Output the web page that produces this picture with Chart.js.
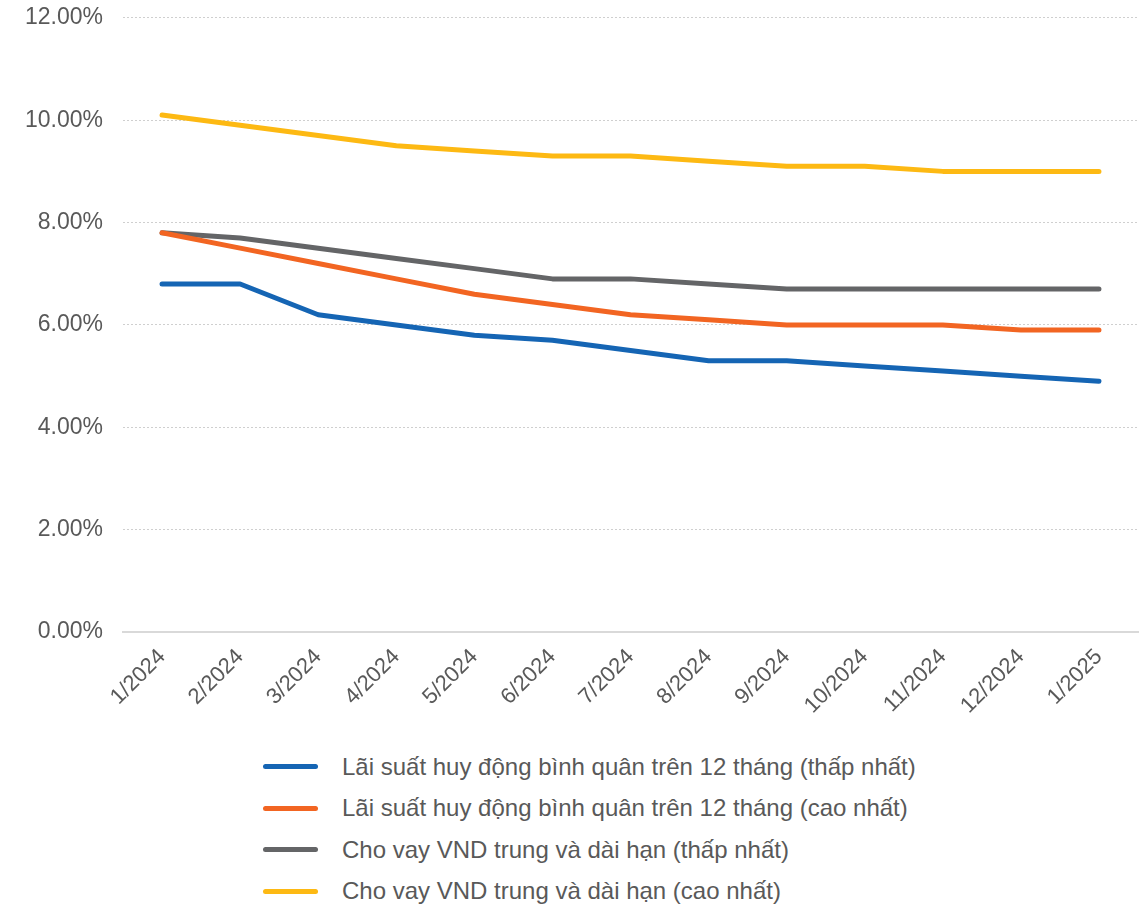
<!DOCTYPE html>
<html>
<head>
<meta charset="utf-8">
<script src="https://cdn.jsdelivr.net/npm/chart.js@4"></script>
<style>
  html, body { margin: 0; padding: 0; background: #fff; overflow: hidden; }
  #wrap { position: absolute; left: 0; top: -16px; width: 1145px; height: 739px; }
  #legend { position: absolute; left: 263px; top: 746px; font-family: "Liberation Sans", Arial, sans-serif; font-size: 24px; color: #595959; }
  #legend .item { display: flex; align-items: center; height: 41.5px; }
  #legend .swatch { width: 55px; height: 5px; border-radius: 3px; margin-right: 24px; }
</style>
</head>
<body>
<div id="wrap"><canvas id="rateChart" width="1145" height="739"></canvas></div>
<div id="legend"></div>
<script>
const months = ['1/2024', '2/2024', '3/2024', '4/2024', '5/2024', '6/2024', '7/2024',
  '8/2024', '9/2024', '10/2024', '11/2024', '12/2024', '1/2025'];
const depositLow = [6.8, 6.8, 6.2, 6.0, 5.8, 5.7, 5.5, 5.3, 5.3, 5.2, 5.1, 5.0, 4.9];
const depositHigh = [7.8, 7.5, 7.2, 6.9, 6.6, 6.4, 6.2, 6.1, 6.0, 6.0, 6.0, 5.9, 5.9];
const loanLow = [7.8, 7.7, 7.5, 7.3, 7.1, 6.9, 6.9, 6.8, 6.7, 6.7, 6.7, 6.7, 6.7];
const loanHigh = [10.1, 9.9, 9.7, 9.5, 9.4, 9.3, 9.3, 9.2, 9.1, 9.1, 9.0, 9.0, 9.0];
const seriesNames = [
  'Lãi suất huy động bình quân trên 12 tháng (thấp nhất)',
  'Lãi suất huy động bình quân trên 12 tháng (cao nhất)',
  'Cho vay VND trung và dài hạn (thấp nhất)',
  'Cho vay VND trung và dài hạn (cao nhất)'
];
const colors = ['#1565b4', '#f26522', '#646567', '#fdb913'];

const font = "'Liberation Sans', Arial, sans-serif";

function line(label, data, color) {
  return {
    label: label,
    data: data,
    borderColor: color,
    backgroundColor: color,
    borderWidth: 5,
    pointRadius: 0,
    tension: 0,
    borderCapStyle: 'round',
    borderJoinStyle: 'round'
  };
}

const ctx = document.getElementById('rateChart').getContext('2d');
const chart = new Chart(ctx, {
  type: 'line',
  data: {
    labels: months,
    datasets: [
      line(seriesNames[0], depositLow, colors[0]),
      line(seriesNames[1], depositHigh, colors[1]),
      line(seriesNames[2], loanLow, colors[2]),
      line(seriesNames[3], loanHigh, colors[3])
    ]
  },
  options: {
    responsive: false,
    animation: false,
    layout: { padding: { top: 3, right: 7, left: 5, bottom: 0 } },
    plugins: {
      legend: { display: false },
      tooltip: { enabled: false }
    },
    scales: {
      x: {
        offset: true,
        grid: { display: false },
        border: { display: true, color: '#d9d9d9', width: 2 },
        ticks: {
          color: '#595959',
          font: { family: font, size: 22 },
          minRotation: 45,
          maxRotation: 45,
          autoSkip: false,
          padding: 4
        }
      },
      y: {
        min: 0,
        max: 12,
        grid: {
          color: (c) => c.tick && c.tick.value === 0 ? 'rgba(0,0,0,0)' : '#cfcfcf',
          lineWidth: 1,
          drawTicks: false
        },
        border: { display: false, dash: [2, 2] },
        ticks: {
          stepSize: 2,
          color: '#595959',
          font: { family: font, size: 23 },
          padding: 20,
          callback: (v) => v.toFixed(2) + '%'
        }
      }
    }
  }
});

const legendEl = document.getElementById('legend');
chart.data.datasets.forEach(function (ds) {
  const item = document.createElement('div');
  item.className = 'item';
  const sw = document.createElement('span');
  sw.className = 'swatch';
  sw.style.background = ds.borderColor;
  const txt = document.createElement('span');
  txt.textContent = ds.label;
  item.appendChild(sw);
  item.appendChild(txt);
  legendEl.appendChild(item);
});
</script>
</body>
</html>
